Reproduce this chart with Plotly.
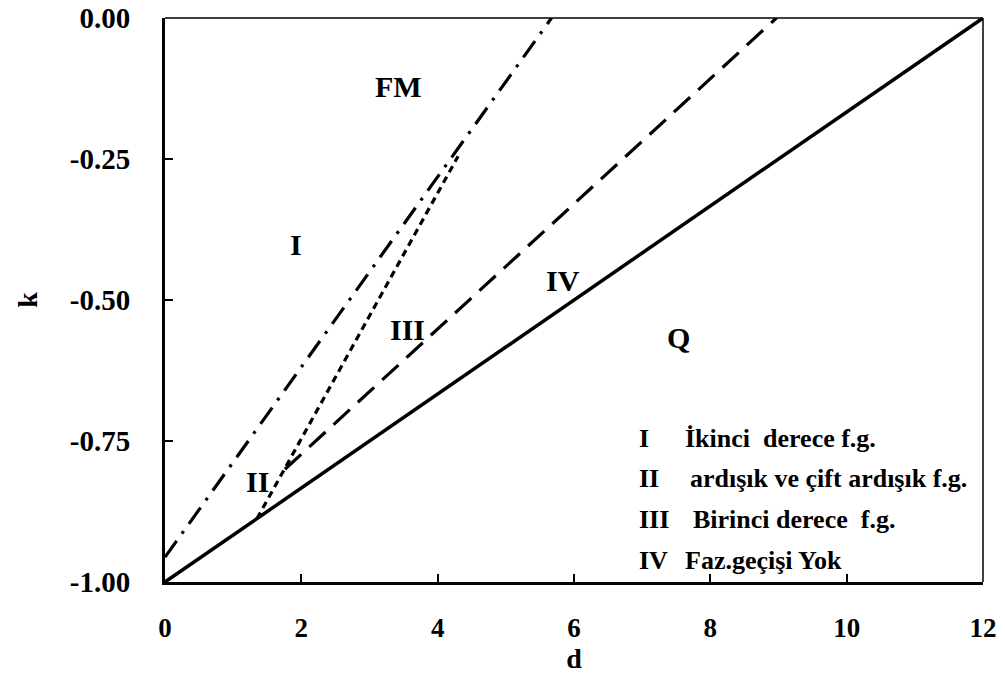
import plotly.graph_objects as go

# Phase boundary lines (d, k)
solid_d = [0, 12]
solid_k = [-1.0, 0.0]
dashdot_d = [0, 5.67]
dashdot_k = [-0.956, 0.0]
longdash_d = [1.76, 8.97]
longdash_k = [-0.80, 0.0]
shortdash_d = [1.35, 4.30]
shortdash_k = [-0.8875, -0.245]

region_labels = ["FM", "I", "II", "III", "IV", "Q"]
region_d = [3.42, 1.92, 1.36, 3.56, 5.84, 7.54]
region_k = [-0.122, -0.402, -0.821, -0.553, -0.465, -0.566]

legend_num = ["I", "II", "III", "IV"]
legend_text = ["İkinci  derece f.g.", "ardışık ve çift ardışık f.g.", "Birinci derece  f.g.", "Faz.geçişi Yok"]
legend_k = [-0.745, -0.817, -0.890, -0.961]
legend_num_d = [6.92, 6.92, 6.92, 6.92]
legend_text_d = [7.6, 7.67, 7.72, 7.6]

FONT = "Liberation Serif"

fig = go.Figure()
fig.add_trace(go.Scatter(x=solid_d, y=solid_k, mode="lines",
                         line=dict(color="black", width=3.5), showlegend=False))
fig.add_trace(go.Scatter(x=dashdot_d, y=dashdot_k, mode="lines",
                         line=dict(color="black", width=3.2, dash="20px,9px,3px,9px"), showlegend=False))
fig.add_trace(go.Scatter(x=longdash_d, y=longdash_k, mode="lines",
                         line=dict(color="black", width=3.2, dash="22px,11px"), showlegend=False))
fig.add_trace(go.Scatter(x=shortdash_d, y=shortdash_k, mode="lines",
                         line=dict(color="black", width=3.2, dash="7px,5px"), showlegend=False))

for t, xd, yk in zip(region_labels, region_d, region_k):
    fig.add_annotation(x=xd, y=yk, text=t, showarrow=False, xref="x", yref="y",
                       font=dict(family=FONT, size=30, color="black", weight="bold"))

for n, t, xn, xt, yk in zip(legend_num, legend_text, legend_num_d, legend_text_d, legend_k):
    fig.add_annotation(x=xn, y=yk, text=n, showarrow=False, xanchor="left", xref="x", yref="y",
                       font=dict(family=FONT, size=26, color="black", weight="bold"))
    fig.add_annotation(x=xt, y=yk, text=t, showarrow=False, xanchor="left", xref="x", yref="y",
                       font=dict(family=FONT, size=26, color="black", weight="bold"))

# thin top and right borders
fig.add_shape(type="line", xref="paper", yref="paper", x0=0, x1=1, y0=1, y1=1,
              line=dict(color="black", width=1.5))
fig.add_shape(type="line", xref="paper", yref="paper", x0=1, x1=1, y0=0, y1=1,
              line=dict(color="black", width=1.5))

fig.update_layout(
    width=1005, height=675,
    margin=dict(l=165, r=22, t=18, b=93),
    plot_bgcolor="white", paper_bgcolor="white",
    font=dict(family=FONT, color="black", weight="bold"),
    xaxis=dict(range=[0, 12], tickvals=[0, 2, 4, 6, 8, 10, 12],
               ticktext=["0", "2", "4", "6", "8", "10", "12"],
               ticks="inside", ticklen=8, tickwidth=1.5, tickcolor="black",
               showline=True, linecolor="black", linewidth=3, showgrid=False, zeroline=False,
               automargin=False,
               tickfont=dict(family=FONT, size=27, color="black", weight="bold"),
               ticklabelstandoff=20,
               title=dict(text="d", font=dict(family=FONT, size=28, color="black", weight="bold"),
                          standoff=6)),
    yaxis=dict(range=[-1, 0], tickvals=[-1, -0.75, -0.5, -0.25, 0],
               ticktext=["-1.00", "-0.75", "-0.50", "-0.25", "0.00"],
               ticks="inside", ticklen=8, tickwidth=1.5, tickcolor="black",
               showline=True, linecolor="black", linewidth=3, showgrid=False, zeroline=False,
               automargin=False,
               tickfont=dict(family=FONT, size=29, color="black", weight="bold"),
               ticklabelstandoff=26,
               title=dict(text="k", font=dict(family=FONT, size=28, color="black", weight="bold"),
                          standoff=24)),
)

fig.write_html("out.html")
